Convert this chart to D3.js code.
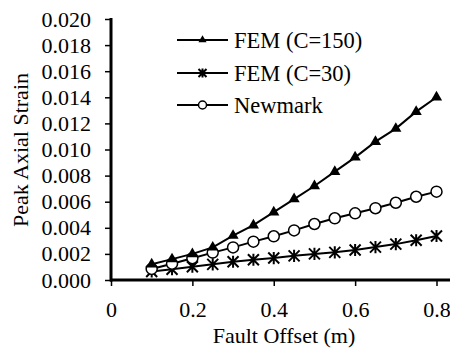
<!DOCTYPE html>
<html><head><meta charset="utf-8">
<script src="https://cdn.jsdelivr.net/npm/d3@7"></script>
<style>body{margin:0;background:#fff}svg{display:block}</style>
</head><body><svg id="c" width="450" height="353"></svg>
<script>
const offsets = [0.1,0.15,0.2,0.25,0.3,0.35,0.4,0.45,0.5,0.55,0.6,0.65,0.7,0.75,0.8];
const fem150 = [0.0012,0.0016,0.0020,0.0025,0.0034,0.0042,0.0052,0.0062,0.0072,0.0083,0.0094,0.0106,0.0116,0.0129,0.0140];
const fem30 = [0.00065,0.00083,0.00102,0.0012,0.0014,0.00155,0.00168,0.00185,0.0020,0.00212,0.0023,0.00252,0.00275,0.00305,0.00337];
const newmark = [0.00085,0.00125,0.00167,0.0021,0.0025,0.00294,0.00335,0.0038,0.00429,0.00473,0.00511,0.0055,0.00592,0.00638,0.00677];
const xTicks = [0,0.2,0.4,0.6,0.8];
const yTicks = [0,0.002,0.004,0.006,0.008,0.010,0.012,0.014,0.016,0.018,0.020];
const seriesNames = ["FEM (C=150)","FEM (C=30)","Newmark"];
const seriesData = [fem150, fem30, newmark];
const markers = ["triangle","star","circle"];

const FONT = "Liberation Serif";
const svg = d3.select("#c");
const x = d3.scaleLinear().domain([0,0.8]).range([111,436.5]);
const y = d3.scaleLinear().domain([0,0.020]).range([280,19]);

const xAx = svg.append("g").attr("transform","translate(0,280)")
  .call(d3.axisBottom(x).tickValues(xTicks).tickFormat(d=>d===0?"0":d3.format(".1f")(d)).tickSize(6).tickPadding(15));
const yAx = svg.append("g").attr("transform","translate(111,0)")
  .call(d3.axisLeft(y).tickValues(yTicks).tickFormat(d3.format(".3f")).tickSize(6).tickPadding(14));
[xAx,yAx].forEach(g=>{
  g.attr("font-family", null).attr("font-size", null);
  g.select(".domain").remove();
  g.selectAll(".tick line").attr("stroke","#000").attr("stroke-width",1.5);
  g.selectAll(".tick text").attr("fill","#000").style("font-family",FONT).style("font-size","22px");
});
svg.append("line").attr("x1",110).attr("x2",450).attr("y1",280).attr("y2",280).attr("stroke","#000").attr("stroke-width",3);
svg.append("line").attr("x1",111).attr("x2",111).attr("y1",18).attr("y2",281.5).attr("stroke","#000").attr("stroke-width",3);

svg.append("text").attr("x",284).attr("y",343).attr("text-anchor","middle").style("font-family",FONT).style("font-size","22px").text("Fault Offset (m)");
svg.append("text").attr("transform","translate(28,150) rotate(-90)").attr("text-anchor","middle").style("font-family",FONT).style("font-size","22px").text("Peak Axial Strain");

function drawMarker(g, type, cx, cy, s){
  if(type==="triangle"){
    g.append("path").attr("d",d3.symbol(d3.symbolTriangle, s*s*0.45)()).attr("transform",`translate(${cx},${cy})`).attr("fill","#000");
  } else if(type==="circle"){
    g.append("circle").attr("cx",cx).attr("cy",cy).attr("r",s/2).attr("fill","#fff").attr("stroke","#000").attr("stroke-width",1.5);
  } else {
    const r = s/2;
    const p = d3.path();
    p.moveTo(cx-r,cy-r); p.lineTo(cx+r,cy+r);
    p.moveTo(cx-r,cy+r); p.lineTo(cx+r,cy-r);
    p.moveTo(cx,cy-r*1.1); p.lineTo(cx,cy+r*1.1);
    g.append("path").attr("d",p.toString()).attr("stroke","#000").attr("stroke-width",2).attr("fill","none");
  }
}

const line = d3.line().x((d,i)=>x(offsets[i])).y(d=>y(d));
const plot = svg.append("g");
[1,2,0].forEach(k=>{
  plot.append("path").datum(seriesData[k]).attr("d",line).attr("fill","none").attr("stroke","#000").attr("stroke-width",2);
  seriesData[k].forEach((v,i)=>drawMarker(plot, markers[k], x(offsets[i]), y(v), 11));
});

const legY = [40,73,105];
seriesNames.forEach((n,k)=>{
  const g = svg.append("g");
  g.append("line").attr("x1",177).attr("x2",228).attr("y1",legY[k]).attr("y2",legY[k]).attr("stroke","#000").attr("stroke-width",2);
  drawMarker(g, markers[k], 202.5, legY[k], 8);
  g.append("text").attr("x",234).attr("y",legY[k]).attr("dy","0.35em").style("font-family",FONT).style("font-size","22.5px").text(n);
});
</script></body></html>
